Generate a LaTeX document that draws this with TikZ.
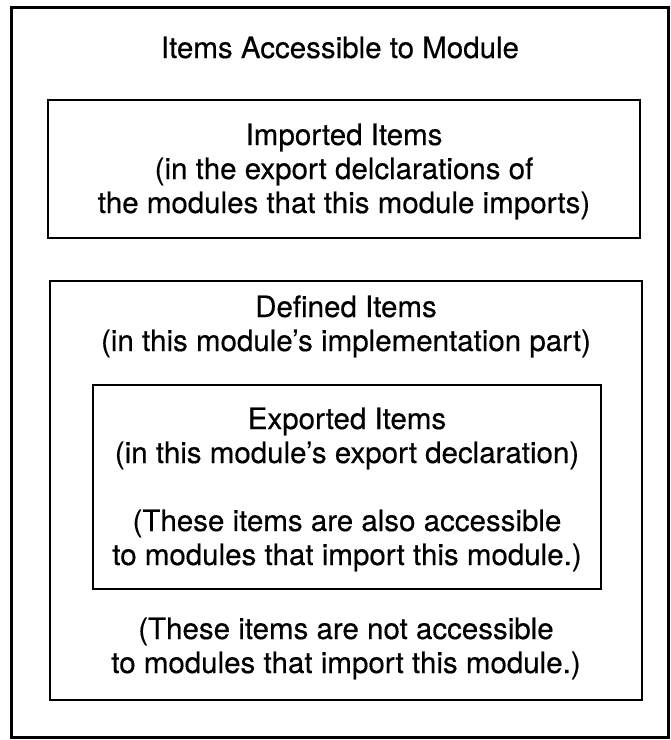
\documentclass[tikz,border=0pt]{standalone}
\usepackage{fontspec}
\setmainfont{TeX Gyre Heros}[FakeBold=0.4]
\begin{document}
\begin{tikzpicture}[x=1pt,y=-1pt,
  outerbox/.style={draw,line width=3pt},
  innerbox/.style={draw,line width=2pt},
  txt/.style={anchor=base,inner sep=0pt,font=\fontsize{29.5}{34}\selectfont}]
\useasboundingbox (0,0) rectangle (671,740);
\fill[white] (0,0) rectangle (671,740);
% boxes
\draw[outerbox] (11,7) rectangle (668,737);
\draw[innerbox] (48,100) rectangle (640,238);
\draw[innerbox] (50,281) rectangle (642,700);
\draw[innerbox] (93,385) rectangle (601,589);
% title
\node[txt] (title) at (340,58) {Items Accessible to Module};
% imported
\node[txt] (imp1) at (344,145) {Imported Items};
\node[txt] (imp2) at (344,179) {(in the export delclarations of};
\node[txt] (imp3) at (344,213) {the modules that this module imports)};
% defined
\node[txt] (def1) at (346,317) {Defined Items};
\node[txt] (def2) at (346,351) {(in this module’s implementation part)};
\node[txt] (def3) at (346,639) {(These items are not accessible};
\node[txt] (def4) at (346,673) {to modules that import this module.)};
% exported
\node[txt] (exp1) at (347,429) {Exported Items};
\node[txt] (exp2) at (347,463) {(in this module’s export declaration)};
\node[txt] (exp3) at (347,531) {(These items are also accessible};
\node[txt] (exp4) at (347,565) {to modules that import this module.)};
\end{tikzpicture}
\end{document}
